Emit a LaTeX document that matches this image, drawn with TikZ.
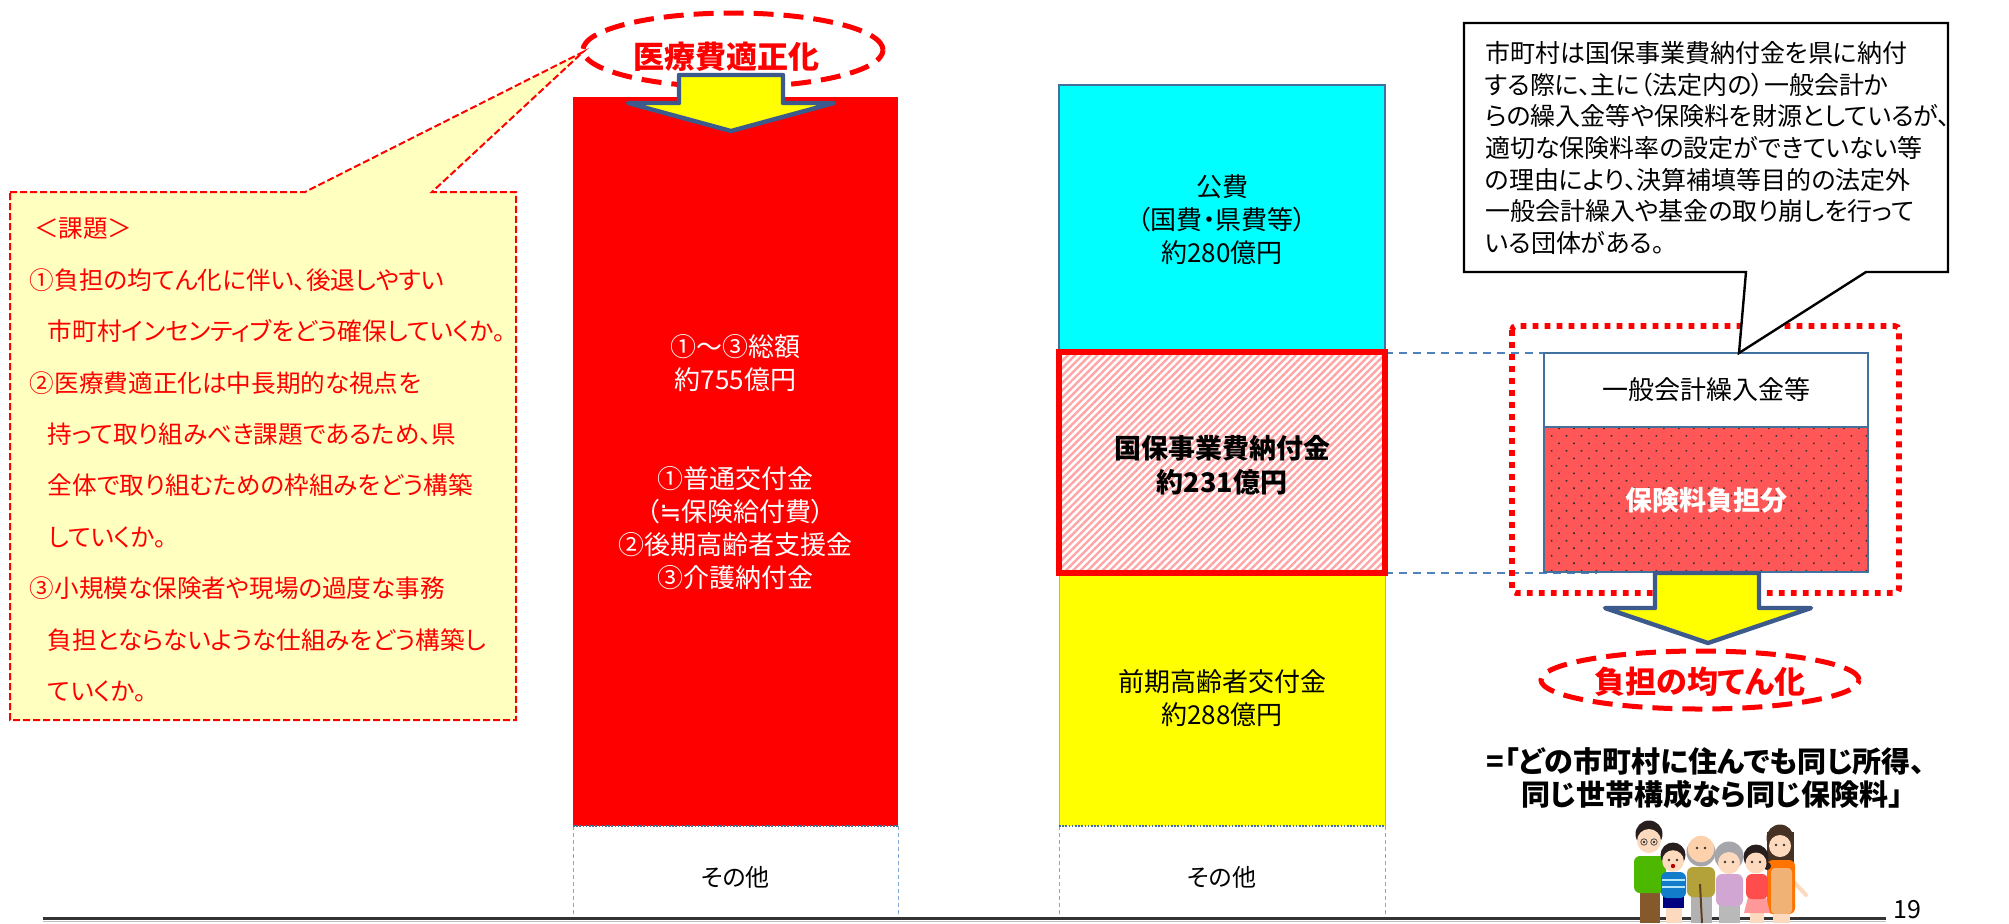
\documentclass[tikz,border=0pt]{standalone}
\usepackage{fontspec}
\setmainfont{Noto Sans CJK JP}[RawFeature=+palt]
\newfontfamily\mathsymfont{DejaVu Sans}
\usetikzlibrary{patterns.meta,shapes.geometric}

\definecolor{notefill}{RGB}{255,255,192}
\definecolor{arrowblue}{RGB}{60,90,140}
\definecolor{linkblue}{RGB}{79,129,189}
\definecolor{edgeblue}{RGB}{65,113,156}
\definecolor{hatchpink}{RGB}{255,165,165}
\definecolor{premiumred}{RGB}{255,87,87}
\definecolor{barred}{RGB}{255,0,0}
\definecolor{barcyan}{RGB}{0,255,255}
\definecolor{baryellow}{RGB}{255,255,0}
\definecolor{skin}{RGB}{253,218,190}
\definecolor{hairdark}{RGB}{40,30,30}
\definecolor{hairgray}{RGB}{165,165,170}

\tikzset{
  txt/.style={inner sep=0pt, outer sep=0pt},
  bartext/.style={txt, align=center, font=\fontsize{13pt}{16.5pt}\selectfont},
  issuetext/.style={txt, align=left, text=barred, font=\fontsize{12.3pt}{25.7pt}\selectfont},
  notetext/.style={txt, align=left, font=\fontsize{12.5pt}{15.85pt}\selectfont},
  otherlabel/.style={txt, font=\fontsize{12pt}{14pt}\selectfont},
  blockarrow/.style={fill=baryellow, draw=arrowblue, line width=2.2pt, line join=round},
  redoval/.style={ellipse, draw=barred, line width=2.5pt, dash pattern=on 10pt off 5pt, inner sep=0pt},
  sideedge/.style={draw=linkblue!70, line width=0.5pt, dash pattern=on 2pt off 1.5pt},
  topedge/.style={draw=edgeblue, line width=0.7pt, dash pattern=on 0.8pt off 0.8pt},
  thinedge/.style={draw=edgeblue, line width=0.6pt},
  link/.style={draw=linkblue, line width=1pt, dash pattern=on 4pt off 3pt},
}

\begin{document}
\begin{tikzpicture}[x=0.5pt,y=-0.5pt]
\useasboundingbox (0,0) rectangle (2009,923);
\fill[white] (0,0) rectangle (2009,923);

% ---------- issues callout ----------
\draw[barred, line width=1pt, dash pattern=on 3.5pt off 1.5pt, fill=notefill]
  (10,192) -- (305,192) -- (583,52) -- (432,192) -- (516,192)
  -- (516,720) -- (10,720) -- cycle;
\node[issuetext, anchor=west] (issues) at (30,460) {%
\hspace*{2pt}＜課題＞\\
①負担の均てん化に伴い、後退しやすい\\
\hspace*{9pt}市町村インセンティブをどう確保していくか。\\
②医療費適正化は中長期的な視点を\\
\hspace*{9pt}持って取り組みべき課題であるため、県\\
\hspace*{9pt}全体で取り組むための枠組みをどう構築\\
\hspace*{9pt}していくか。\\
③小規模な保険者や現場の過度な事務\\
\hspace*{9pt}負担とならないような仕組みをどう構築し\\
\hspace*{9pt}ていくか。};

% ---------- medical cost oval ----------
\node[redoval, minimum width=150pt, minimum height=37pt] (goal) at (733,50) {};
\node[txt, text=barred, font=\fontsize{15.5pt}{18pt}\selectfont\bfseries] (goaltxt) at (726,57) {医療費適正化};

% ---------- left column ----------
\fill[barred] (573,97) rectangle (898,826);
\node[bartext, text=white] (total) at (735.5,363.5) {①～③総額\\約755億円};
\node[bartext, text=white] (items) at (735.5,528.5)
  {①普通交付金\\（{\mathsymfont ≒}保険給付費）\\②後期高齢者支援金\\③介護納付金};
\draw[sideedge] (573,826) -- (573,919) (898,826) -- (898,919);
\draw[topedge] (573,826) -- (898,826);
\node[otherlabel] (otherL) at (735.5,877) {その他};

\draw[blockarrow] (679,75) -- (783,75) -- (783,103) -- (834,103)
  -- (731,131) -- (628,103) -- (679,103) -- cycle;

% ---------- middle column ----------
\fill[barcyan] (1059,85) rectangle (1385,352);
\draw[thinedge] (1059,352) -- (1059,85) -- (1385,85) -- (1385,352);
\node[bartext] (public) at (1222,220) {公費\\（国費・県費等）\\約280億円};

\fill[baryellow] (1059,573) rectangle (1385,826);
\draw[draw=linkblue!60, line width=0.4pt] (1059,573) -- (1059,826) (1385,573) -- (1385,826);
\node[bartext] (early) at (1222,698) {前期高齢者交付金\\約288億円};
\draw[sideedge] (1059,826) -- (1059,919) (1385,826) -- (1385,919);
\draw[topedge] (1059,826) -- (1385,826);
\node[otherlabel] (otherR) at (1222,877) {その他};

\coordinate (levyNE) at (1385,353);
\coordinate (levySE) at (1385,573);
\coordinate (linkTop) at (1570,353);
\coordinate (linkBot) at (1597,573);
\draw[link] (levyNE) -- (linkTop);
\draw[link] (levySE) -- (linkBot);

\fill[white] (1059,352) rectangle (1385,573);
\fill[pattern={Lines[angle=45,distance=2.6pt,line width=1.2pt]}, pattern color=hatchpink]
  (1059,352) rectangle (1385,573);
\draw[barred, line width=3pt] (1059,352) rectangle (1385,573);
\node[bartext, font=\fontsize{13.5pt}{17pt}\selectfont\bfseries] (levy) at (1222,465)
  {国保事業費納付金\\約231億円};

% ---------- right side ----------
\draw[barred, line width=2.8pt, dash pattern=on 2.9pt off 3.1pt, rounded corners=2pt]
  (1512,326) rectangle (1899,593);
\fill[white] (1544,353) rectangle (1868,427);
\fill[premiumred] (1544,427) rectangle (1868,572);
\fill[pattern={Dots[angle=45,distance=5.3pt,radius=0.55pt]}, pattern color=black!80]
  (1544,427) rectangle (1868,572);
\draw[thinedge] (1544,353) rectangle (1868,572);
\draw[thinedge] (1544,427) -- (1868,427);
\node[txt, font=\fontsize{13pt}{15pt}\selectfont] (transfer) at (1706,390) {一般会計繰入金等};
\node[txt, text=white, font=\fontsize{13.5pt}{16pt}\selectfont\bfseries] (premium) at (1706,500) {保険料負担分};

\draw[blockarrow] (1655,573) -- (1759,573) -- (1759,608) -- (1811,608)
  -- (1708,643) -- (1605,608) -- (1655,608) -- cycle;

\node[redoval, minimum width=159pt, minimum height=29pt] (equal) at (1700,680) {};
\node[txt, text=barred, font=\fontsize{15.5pt}{18pt}\selectfont\bfseries] (equaltxt) at (1700,682) {負担の均てん化};

\node[txt, align=center, font=\fontsize{14.5pt}{16.5pt}\selectfont\bfseries] (slogan) at (1706,778)
  {=「どの市町村に住んでも同じ所得、\\\hspace*{6pt}同じ世帯構成なら同じ保険料」};

% note callout
\draw[black, line width=1.2pt, fill=white, line join=miter]
  (1464,23) -- (1948,23) -- (1948,272) -- (1866,272) -- (1739,353)
  -- (1746,272) -- (1464,272) -- cycle;
\node[notetext, anchor=west] (note) at (1485,148) {%
市町村は国保事業費納付金を県に納付\\
する際に、主に（法定内の）一般会計か\\
らの繰入金等や保険料を財源としているが、\\
適切な保険料率の設定ができていない等\\
の理由により、決算補填等目的の法定外\\
一般会計繰入や基金の取り崩しを行って\\
いる団体がある。};

% ---------- base rule and page number ----------
\draw[black!80, line width=1.3pt] (43,918.5) -- (1886,918.5);
\draw[black!25, line width=0.8pt] (43,921.5) -- (1886,921.5);
\node[txt, font=\fontsize{12.5pt}{14pt}\selectfont] (page) at (1907,910) {19};

% ---------- family ----------
% father
\fill[brown!70!black] (1640,888) rectangle (1660,923);
\fill[green!60!black!70!yellow, rounded corners=3pt] (1634,856) rectangle (1666,893);
\fill[hairdark] (1649,834) circle[radius=13.5];
\fill[skin] (1649,841) circle[radius=12];
\draw[black!70, line width=0.4pt] (1644,842) circle[radius=3.2] (1654,842) circle[radius=3.2];
% mother
\fill[hairdark!80!brown] (1767,832) rectangle (1794,874);
\fill[hairdark!80!brown] (1780,838) circle[radius=13.5];
\fill[skin] (1780,846) circle[radius=11];
\draw[skin, line width=2pt, line cap=round] (1792,880) -- (1806,895);
\fill[orange!90!red, rounded corners=3pt] (1767,860) rectangle (1795,914);
\fill[brown!40!orange!60!white, rounded corners=2pt] (1771,868) rectangle (1792,914);
\fill[skin] (1773,914) rectangle (1790,923);
% boy
\fill[skin] (1666,906) rectangle (1682,923);
\fill[blue!50!black] (1663,896) rectangle (1684,908);
\fill[cyan!60!blue, rounded corners=3pt] (1661,872) rectangle (1686,898);
\draw[white!70!cyan, line width=0.8pt] (1662,880) -- (1685,880) (1662,887) -- (1685,887);
\fill[hairdark] (1673,855) circle[radius=12.5];
\fill[skin] (1673,861) circle[radius=10.8];
\fill[red!70!black] (1673,866) circle[radius=2.2];
% grandfather
\fill[gray!60] (1691,895) rectangle (1712,923);
\fill[olive!70!brown!80!white, rounded corners=3pt] (1687,867) rectangle (1715,897);
\fill[hairgray] (1701,852) circle[radius=14.5];
\fill[skin!90!orange] (1701,849) circle[radius=13.2];
\draw[brown!50!black, line width=1pt] (1700,884) -- (1702,923);
% grandmother
\fill[gray!55] (1719,904) rectangle (1740,923);
\fill[violet!35!white, rounded corners=3pt] (1716,874) rectangle (1743,906);
\fill[hairgray] (1729,856) circle[radius=14.5];
\fill[skin] (1729,863) circle[radius=11];
% girl
\fill[skin] (1750,911) rectangle (1764,923);
\fill[pink!80!red] (1748,897) -- (1766,897) -- (1770,913) -- (1744,913) -- cycle;
\fill[red!60!pink, rounded corners=3pt] (1746,874) rectangle (1768,899);
\fill[hairdark] (1756,857) circle[radius=12.5];
\fill[hairdark] (1767,866) circle[radius=4];
\fill[skin] (1756,863) circle[radius=10.5];
% eyes
\foreach \ex/\ey in {1644/842, 1654/842, 1669/860, 1677/860, 1697/848, 1705/848,
  1725/862, 1733/862, 1752/862, 1760/862, 1776/845, 1784/845}
  \fill[black!80] (\ex,\ey) circle[radius=1.3];
\end{tikzpicture}
\end{document}
